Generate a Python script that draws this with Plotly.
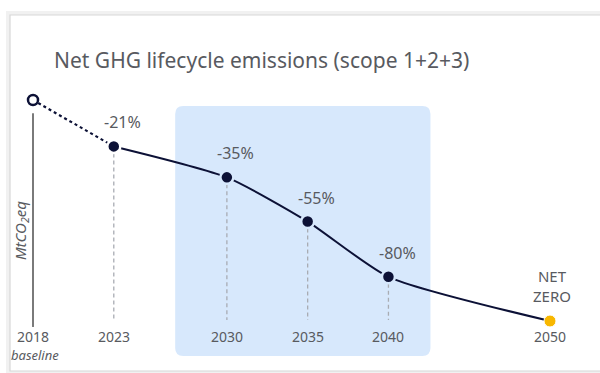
import plotly.graph_objects as go

# Emission pathway, indexed to the 2018 baseline (=100)
years = [2018, 2023, 2030, 2035, 2040, 2050]
year_labels = ["2018", "2023", "2030", "2035", "2040", "2050"]
emissions_index = [100, 79, 65, 45, 20, 0]
reduction_labels = ["", "-21%", "-35%", "-55%", "-80%", "NET<br>ZERO"]

# Highlighted ambition period
band_years = [2026.8, 2042.6]
band_levels = [-15.8, 97.3]

NAVY = "#0c1136"
GREY_TXT = "#585a60"
BAND = "#d7e8fc"
GOLD = "#f8b700"
FONT = "Noto Sans"

fig = go.Figure()

# vertical drop lines for the milestone years
drop_x, drop_y = [], []
for x, y in zip(years[1:-1], emissions_index[1:-1]):
    drop_x += [x, x, None]
    drop_y += [y, 0.5, None]
fig.add_trace(go.Scatter(x=drop_x, y=drop_y, mode="lines",
                         line=dict(color="#a9acb3", width=1.3, dash="4px,3px"),
                         hoverinfo="skip"))

# baseline axis line
fig.add_trace(go.Scatter(x=[years[0], years[0]], y=[94, -2.7], mode="lines",
                         line=dict(color="#7a7a7a", width=2), hoverinfo="skip"))

# dotted link from baseline to first reported year
fig.add_trace(go.Scatter(x=years[:2], y=emissions_index[:2], mode="lines",
                         line=dict(color=NAVY, width=2.2, dash="dot"), hoverinfo="skip"))

# pathway curve
fig.add_trace(go.Scatter(x=years[1:], y=emissions_index[1:], mode="lines",
                         line=dict(color=NAVY, width=2, shape="spline", smoothing=0.6),
                         hoverinfo="skip"))

# milestone markers
ring = ["white", BAND, BAND, BAND]
fig.add_trace(go.Scatter(x=years[1:-1], y=emissions_index[1:-1], mode="markers",
                         marker=dict(color=NAVY, size=13, line=dict(color=ring, width=2.5))))
fig.add_trace(go.Scatter(x=years[:1], y=emissions_index[:1], mode="markers",
                         marker=dict(color="white", size=10, line=dict(color=NAVY, width=2.5))))
fig.add_trace(go.Scatter(x=years[-1:], y=emissions_index[-1:], mode="markers",
                         marker=dict(color=GOLD, size=12, line=dict(color="white", width=1))))

# rounded highlight band
x0, x1 = band_years
y0, y1 = band_levels
rx, ry = 0.5, 3.6
band_path = (f"M {x0+rx},{y0} L {x1-rx},{y0} Q {x1},{y0} {x1},{y0+ry} "
             f"L {x1},{y1-ry} Q {x1},{y1} {x1-rx},{y1} L {x0+rx},{y1} "
             f"Q {x0},{y1} {x0},{y1-ry} L {x0},{y0+ry} Q {x0},{y0} {x0+rx},{y0} Z")
shapes = [
    dict(type="path", path=band_path, xref="x", yref="y", fillcolor=BAND,
         line=dict(width=0), layer="below"),
    # card frame
    dict(type="rect", xref="paper", yref="paper", x0=8 / 600, x1=1.05,
         y0=1 - 373 / 373, y1=1 - 13 / 373, line=dict(color="#f1f1f1", width=4),
         fillcolor="rgba(0,0,0,0)", layer="below"),
    dict(type="rect", xref="paper", yref="paper", x0=10 / 600, x1=1.05,
         y0=1 - 371 / 373, y1=1 - 15 / 373, line=dict(color="#d8d8d8", width=1.2),
         fillcolor="rgba(0,0,0,0)", layer="below"),
]

annotations = [
    dict(text="Net GHG lifecycle emissions (scope 1+2+3)", xref="paper", yref="paper",
         x=52 / 600, y=1 - 60 / 373, xanchor="left", yanchor="middle", showarrow=False,
         font=dict(family=FONT, size=21, color=GREY_TXT)),
    dict(text="<i>MtCO<sub>2</sub>eq</i>", xref="x", yref="paper", x=years[0],
         y=1 - 231 / 373, xshift=-12, textangle=-90, showarrow=False,
         xanchor="center", yanchor="middle",
         font=dict(family=FONT, size=15, color=GREY_TXT)),
    dict(text="<i>baseline</i>", xref="x", yref="paper", x=years[0],
         y=1 - 354.5 / 373, xshift=2, showarrow=False, xanchor="center",
         yanchor="middle", borderpad=0,
         font=dict(family=FONT, size=13, color=GREY_TXT)),
]
for x, lab in zip(years, year_labels):
    annotations.append(dict(text=lab, xref="x", yref="paper", x=x, y=1 - 336.5 / 373,
                            showarrow=False, xanchor="center", yanchor="middle",
                            borderpad=0,
                            font=dict(family=FONT, size=14, color=GREY_TXT)))
for x, y, lab in zip(years[1:-1], emissions_index[1:-1], reduction_labels[1:-1]):
    annotations.append(dict(text=lab, x=x, y=y, xshift=9, yshift=24, showarrow=False,
                            xanchor="center", yanchor="middle",
                            font=dict(family=FONT, size=16, color=GREY_TXT)))
annotations.append(dict(text=reduction_labels[-1], x=years[-1], y=emissions_index[-1],
                        xshift=2, yshift=35, showarrow=False, xanchor="center",
                        yanchor="middle",
                        font=dict(family=FONT, size=15, color=GREY_TXT)))

fig.update_layout(
    width=600, height=373,
    margin=dict(l=0, r=0, t=0, b=0),
    paper_bgcolor="white", plot_bgcolor="white",
    showlegend=False,
    xaxis=dict(range=[2015.957, 2053.095], visible=False, fixedrange=True),
    yaxis=dict(range=[-23.53, 145.25], visible=False, fixedrange=True),
    shapes=shapes,
    annotations=annotations,
)

fig.write_html("out.html")
